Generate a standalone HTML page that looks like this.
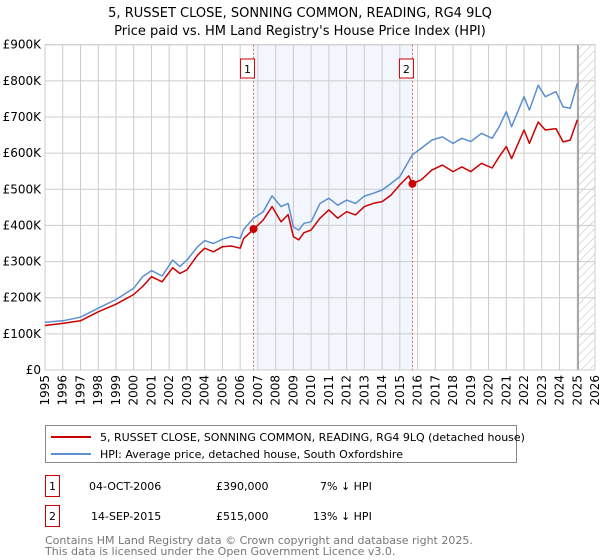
<!DOCTYPE html>
<html><head><meta charset="utf-8"><style>
body{margin:0;background:#fff;font-family:"DejaVu Sans","Liberation Sans",sans-serif;}
svg{display:block}
</style></head><body>
<svg width="600" height="560" xmlns="http://www.w3.org/2000/svg" font-family="DejaVu Sans, Liberation Sans, sans-serif">
<defs><pattern id="hatch" width="6" height="6" patternUnits="userSpaceOnUse" patternTransform="rotate(45)"><line x1="0" y1="0" x2="0" y2="6" stroke="#bbb" stroke-width="1"/></pattern></defs>
<text x="300" y="17" text-anchor="middle" font-size="13">5, RUSSET CLOSE, SONNING COMMON, READING, RG4 9LQ</text>
<text x="300" y="35" text-anchor="middle" font-size="13">Price paid vs. HM Land Registry's House Price Index (HPI)</text>
<g id="plot"></g>
<g id="legend">
<rect x="45.5" y="425.5" width="471" height="37" fill="#fff" stroke="#888"/>
<line x1="51" y1="437" x2="91" y2="437" stroke="#cc0000" stroke-width="2"/>
<text x="100" y="441" font-size="11">5, RUSSET CLOSE, SONNING COMMON, READING, RG4 9LQ (detached house)</text>
<line x1="51" y1="454" x2="91" y2="454" stroke="#5b8fd0" stroke-width="2"/>
<text x="100" y="458" font-size="11">HPI: Average price, detached house, South Oxfordshire</text>
</g>
<g font-size="11">
<rect x="45.5" y="475.5" width="14" height="21" fill="#fff" stroke="#cc0000"/>
<text x="52.5" y="490" text-anchor="middle">1</text>
<text x="89" y="490">04-OCT-2006</text><text x="216" y="490">£390,000</text><text x="320" y="490">7% ↓ HPI</text>
<rect x="45.5" y="505.5" width="14" height="21" fill="#fff" stroke="#cc0000"/>
<text x="52.5" y="520" text-anchor="middle">2</text>
<text x="91" y="520">14-SEP-2015</text><text x="216" y="520">£515,000</text><text x="313" y="520">13% ↓ HPI</text>
</g>
<text x="45" y="544" font-size="11" fill="#777">Contains HM Land Registry data © Crown copyright and database right 2025.</text>
<text x="45" y="555" font-size="11" fill="#777">This data is licensed under the Open Government Licence v3.0.</text>
</svg>
<script>
const hpiYears=[1995,1996,1997,1998,1999,2000,2000.5,2001,2001.6,2002.2,2002.6,2003,2003.6,2004,2004.5,2005,2005.5,2006,2006.2,2006.75,2007.3,2007.8,2008.3,2008.7,2009.0,2009.3,2009.6,2010,2010.5,2011,2011.5,2012,2012.5,2013,2013.5,2014,2014.5,2015,2015.7,2016.2,2016.8,2017.4,2018,2018.5,2019,2019.6,2020.2,2020.6,2021,2021.3,2022,2022.3,2022.8,2023.2,2023.8,2024.2,2024.6,2025.0];
const hpiValues=[132,136,146,171,195,226,258,275,260,304,286,304,341,358,350,362,369,364,389,420,438,482,452,461,396,387,406,410,461,475,456,470,461,481,489,498,516,535,595,613,636,645,627,641,632,655,641,673,715,673,756,719,788,756,770,728,724,793];
const priceYears=[1995,1996,1997,1998,1999,2000,2000.5,2001,2001.6,2002.2,2002.6,2003,2003.6,2004,2004.5,2005,2005.5,2006,2006.2,2006.75,2007.3,2007.8,2008.3,2008.7,2009.0,2009.3,2009.6,2010,2010.5,2011,2011.5,2012,2012.5,2013,2013.5,2014,2014.5,2015,2015.5,2015.7,2016.2,2016.8,2017.4,2018,2018.5,2019,2019.6,2020.2,2020.6,2021,2021.3,2022,2022.3,2022.8,2023.2,2023.8,2024.2,2024.6,2025.0];
const priceValues=[123,129,136,161,182,209,231,258,244,283,267,277,318,337,327,341,343,337,364,389,415,452,410,430,369,360,380,387,420,443,420,438,429,452,461,466,484,512,537,516,526,553,567,549,562,549,572,559,590,618,585,664,627,686,664,668,631,636,692];
const saleYears=[2006.75,2015.71];
const saleValues=[390,515];
const saleLabels=["1","2"];
const yTicks=[0,100,200,300,400,500,600,700,800,900];
const yTickLabels=["£0","£100K","£200K","£300K","£400K","£500K","£600K","£700K","£800K","£900K"];
const xTicks=[1995,1996,1997,1998,1999,2000,2001,2002,2003,2004,2005,2006,2007,2008,2009,2010,2011,2012,2013,2014,2015,2016,2017,2018,2019,2020,2021,2022,2023,2024,2025,2026];
const forecastStart=2025.05;

const X0=45,X1=595,Y0=370,Y1=44.7;
const xs=y=>X0+(y-1995)/(2026-1995)*(X1-X0);
const ys=v=>Y0-v/900*(Y0-Y1);
const NS="http://www.w3.org/2000/svg";
const plot=document.getElementById('plot');
function mk(t,a,p){const e=document.createElementNS(NS,t);for(const k in a)e.setAttribute(k,a[k]);(p||plot).appendChild(e);return e;}

let e=mk('rect',{x:xs(saleYears[0]),y:Y1,width:xs(saleYears[1])-xs(saleYears[0]),height:Y0-Y1,fill:'#eef2fc',opacity:0.7});


e=mk('rect',{x:xs(forecastStart),y:Y1,width:X1-xs(forecastStart),height:Y0-Y1,fill:'url(#hatch)'});


yTicks.forEach((v,i)=>{
  let l=mk('line',{x1:X0,x2:X1,y1:ys(v),y2:ys(v),stroke:'#ccc','stroke-width':1});
  
  
  let t=mk('text',{x:X0-4,y:ys(v)+4,'text-anchor':'end','font-size':12});
  t.textContent=yTickLabels[i];
  
  
});
xTicks.forEach(y=>{
  let l=mk('line',{x1:xs(y),x2:xs(y),y1:Y1,y2:Y0,stroke:'#ccc','stroke-width':1});
  
  
  let t=mk('text',{transform:`translate(${xs(y)+4},${Y0+5}) rotate(-90)`,'text-anchor':'end','font-size':12});
  t.textContent=y;
  
  
});
e=mk('line',{x1:xs(forecastStart),x2:xs(forecastStart),y1:Y1,y2:Y0,stroke:'#999','stroke-width':1.5});


e=mk('rect',{x:X0,y:Y1,width:X1-X0,height:Y0-Y1,fill:'none',stroke:'#ccc'});


saleYears.forEach((y,i)=>{
  let l=mk('line',{x1:xs(y),x2:xs(y),y1:Y1,y2:Y0,stroke:'#e06060','stroke-width':1,'stroke-dasharray':'2,2'});
  
  
  let r=mk('rect',{x:xs(y)-13,y:59,width:14,height:19,fill:'#fff',stroke:'#cc0000'});
  
  
  let t=mk('text',{x:xs(y)-6,y:73,'text-anchor':'middle','font-size':11});
  t.textContent=saleLabels[i];
  
  
});
function path(xa,va,col,name){
  const d=xa.map((y,i)=>(i?'L':'M')+xs(y).toFixed(1)+','+ys(va[i]).toFixed(1)).join('');
  const p=mk('path',{d:d,fill:'none',stroke:col,'stroke-width':1.5,'stroke-linejoin':'round'});
  
  
}
path(hpiYears,hpiValues,'#5b8fd0','hpi-line');
path(priceYears,priceValues,'#cc0000','property-price-line');
saleYears.forEach((y,i)=>{
  const c=mk('circle',{cx:xs(y),cy:ys(saleValues[i]),r:4,fill:'#cc0000'});
  
  
});
</script>
</body></html>
